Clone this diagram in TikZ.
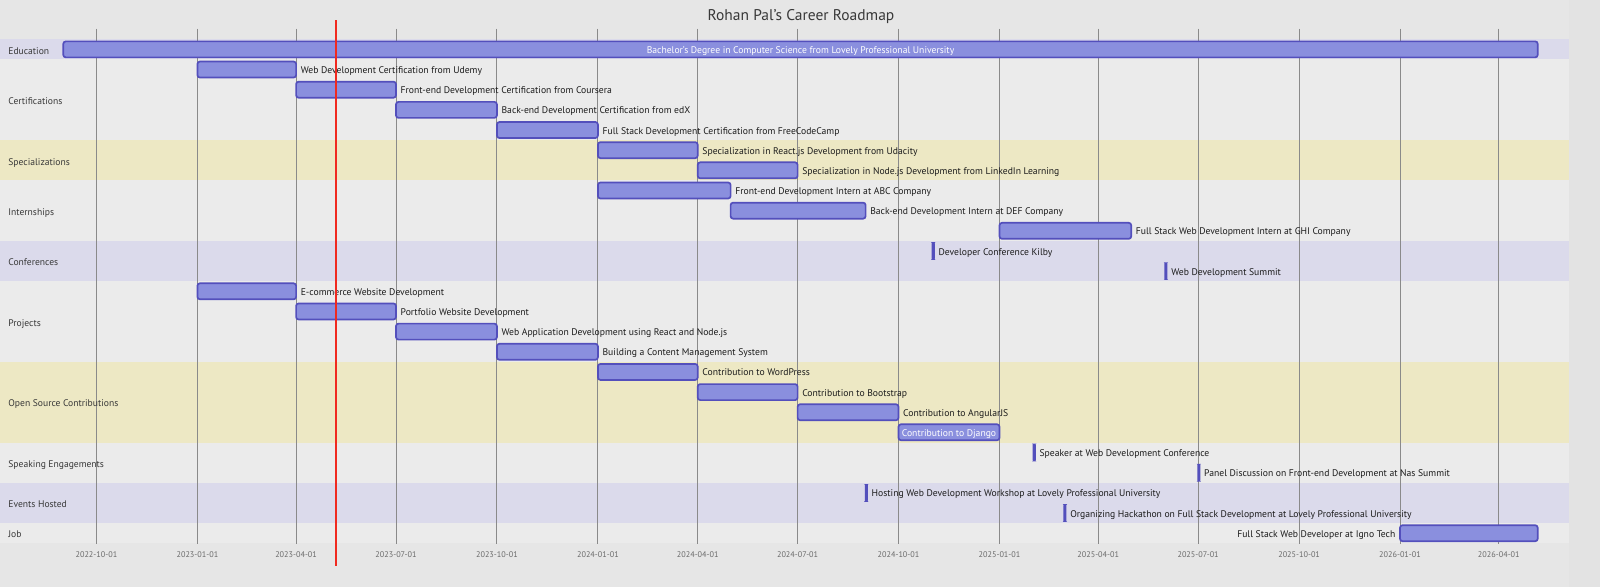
\documentclass[tikz,border=0pt]{standalone}
\usepackage{fontspec}
\setmainfont{PT Sans}
\usetikzlibrary{fit}
\definecolor{bgc}{HTML}{E6E6E6}
\definecolor{rstrip}{HTML}{E3E3E3}
\definecolor{bandw}{HTML}{EBEBEB}
\definecolor{bandl}{HTML}{DBDAEB}
\definecolor{bandy}{HTML}{EDE8C4}
\definecolor{barfill}{HTML}{8A8FDE}
\definecolor{barstroke}{HTML}{534FBC}
\definecolor{gridc}{HTML}{8A8A8A}
\definecolor{tickc}{HTML}{6A6A6A}
\definecolor{labc}{HTML}{1C1C1C}
\definecolor{secc}{HTML}{383838}
\definecolor{todayc}{HTML}{F02A20}
\tikzset{
  bar/.style={draw=barstroke, fill=barfill, line width=1.7pt, rounded corners=2.5pt, inner sep=0pt, outer sep=0pt},
  thinbar/.style={draw=barstroke, fill=barstroke, line width=1.7pt, rounded corners=0.8pt, inner sep=0pt, outer sep=0pt},
  tlabel/.style={font=\fontsize{9.65}{11}\selectfont, text=labc, inner sep=0pt, text height=1.6ex, text depth=0.3ex},
  inlabel/.style={tlabel, text=white},
  slabel/.style={font=\fontsize{9.6}{11}\selectfont, text=secc, inner sep=0pt, anchor=west, text height=1.6ex, text depth=0.3ex},
  ticklab/.style={font=\fontsize{8.2}{9}\selectfont, text=tickc, inner sep=0pt},
  gridline/.style={draw=gridc, line width=0.9pt},
}
% name, x1, x2, ycenter, label (label right of bar)
\newcommand\gtask[5]{%
  \node[bar, fit={(#2,#4-8)(#3,#4+8)}] (#1) {};
  \node[tlabel, anchor=west] (#1l) at ([xshift=4.5pt,yshift=-0.8pt]#1.east) {#5};}
% thin one-day task: name, x, ycenter, label
\newcommand\gmark[4]{%
  \node[thinbar, fit={(#2,#3-8)(#2+1.4,#3+8)}] (#1) {};
  \node[tlabel, anchor=west] (#1l) at ([xshift=4.5pt,yshift=-0.8pt]#1.east) {#4};}
\begin{document}
\begin{tikzpicture}[x=1pt,y=-1pt]
\useasboundingbox (0,0) rectangle (1600,587);
\fill[bgc] (0,0) rectangle (1600,587);
\fill[rstrip] (1569.3,0) rectangle (1600,587);
% section bands
\fill[bandl] (0,39.3) rectangle (1569.3,59.46);
\fill[bandw] (0,59.46) rectangle (1569.3,140.1);
\fill[bandy] (0,140.1) rectangle (1569.3,180.42);
\fill[bandw] (0,180.42) rectangle (1569.3,240.9);
\fill[bandl] (0,240.9) rectangle (1569.3,281.22);
\fill[bandw] (0,281.22) rectangle (1569.3,361.86);
\fill[bandy] (0,361.86) rectangle (1569.3,442.5);
\fill[bandw] (0,442.5) rectangle (1569.3,482.82);
\fill[bandl] (0,482.82) rectangle (1569.3,523.14);
\fill[bandw] (0,523.14) rectangle (1569.3,543.3);
% grid and ticks
\foreach \xx/\lab in {96.4/2022-10-01,197.4/2023-01-01,296.1/2023-04-01,396.0/2023-07-01,496.9/2023-10-01,597.9/2024-01-01,697.7/2024-04-01,797.6/2024-07-01,898.5/2024-10-01,999.5/2025-01-01,1098.2/2025-04-01,1198.1/2025-07-01,1299.1/2025-10-01,1400.0/2026-01-01,1498.8/2026-04-01}{
  \draw[gridline] (\xx,28.7) -- (\xx,544);
  \node[ticklab] at (\xx,555) {\lab};
}
% title
\node[font=\fontsize{15.5}{18}\selectfont, text=secc, inner sep=0pt] (title) at (801,16.5) {Rohan Pal's Career Roadmap};
% section labels
\node[slabel] (s1) at (8.2,50.9) {Education};
\node[slabel] (s2) at (8.2,101.3) {Certifications};
\node[slabel] (s3) at (8.2,161.8) {Specializations};
\node[slabel] (s4) at (8.2,212.2) {Internships};
\node[slabel] (s5) at (8.2,262.6) {Conferences};
\node[slabel] (s6) at (8.2,323.0) {Projects};
\node[slabel] (s7) at (8.2,403.7) {Open Source Contributions};
\node[slabel] (s8) at (8.2,464.2) {Speaking Engagements};
\node[slabel] (s9) at (8.2,504.5) {Events Hosted};
\node[slabel] (s10) at (8.2,534.2) {Job};
% tasks
\node[bar, fit={(63.3,41.38)(1537.7,57.38)}] (t1) {};
\node[inlabel] (t1l) at ([yshift=-0.8pt]t1.center) {Bachelor's Degree in Computer Science from Lovely Professional University};
\gtask{t2}{197.4}{296.1}{69.54}{Web Development Certification from Udemy}
\gtask{t3}{296.1}{396.0}{89.70}{Front-end Development Certification from Coursera}
\gtask{t4}{396.0}{496.9}{109.86}{Back-end Development Certification from edX}
\gtask{t5}{496.9}{597.9}{130.02}{Full Stack Development Certification from FreeCodeCamp}
\gtask{t6}{597.9}{697.7}{150.18}{Specialization in React.js Development from Udacity}
\gtask{t7}{697.7}{797.6}{170.34}{Specialization in Node.js Development from LinkedIn Learning}
\gtask{t8}{597.9}{730.6}{190.50}{Front-end Development Intern at ABC Company}
\gtask{t9}{730.6}{865.6}{210.66}{Back-end Development Intern at DEF Company}
\gtask{t10}{999.5}{1131.2}{230.82}{Full Stack Web Development Intern at GHI Company}
\gmark{t11}{932.5}{250.98}{Developer Conference Kilby}
\gmark{t12}{1165.2}{271.14}{Web Development Summit}
\gtask{t13}{197.4}{296.1}{291.30}{E-commerce Website Development}
\gtask{t14}{296.1}{396.0}{311.46}{Portfolio Website Development}
\gtask{t15}{396.0}{496.9}{331.62}{Web Application Development using React and Node.js}
\gtask{t16}{496.9}{597.9}{351.78}{Building a Content Management System}
\gtask{t17}{597.9}{697.7}{371.94}{Contribution to WordPress}
\gtask{t18}{697.7}{797.6}{392.10}{Contribution to Bootstrap}
\gtask{t19}{797.6}{898.5}{412.26}{Contribution to AngularJS}
\node[bar, fit={(898.5,424.26)(999.5,440.26)}] (t20) {};
\node[inlabel] (t20l) at ([yshift=-0.8pt]t20.center) {Contribution to Django};
\gmark{t21}{1033.5}{452.58}{Speaker at Web Development Conference}
\gmark{t22}{1198.1}{472.74}{Panel Discussion on Front-end Development at Nas Summit}
\gmark{t23}{865.6}{492.90}{Hosting Web Development Workshop at Lovely Professional University}
\gmark{t24}{1064.2}{513.06}{Organizing Hackathon on Full Stack Development at Lovely Professional University}
\node[bar, fit={(1400.0,525.22)(1537.7,541.22)}] (t25) {};
\node[tlabel, anchor=east] (t25l) at ([xshift=-4.5pt,yshift=-0.8pt]t25.west) {Full Stack Web Developer at Igno Tech};
% today marker
\coordinate (todayTop) at (335.7,20);
\coordinate (todayBot) at (335.7,565.7);
\draw[todayc, line width=2pt] (todayTop) -- (todayBot);
\end{tikzpicture}
\end{document}
